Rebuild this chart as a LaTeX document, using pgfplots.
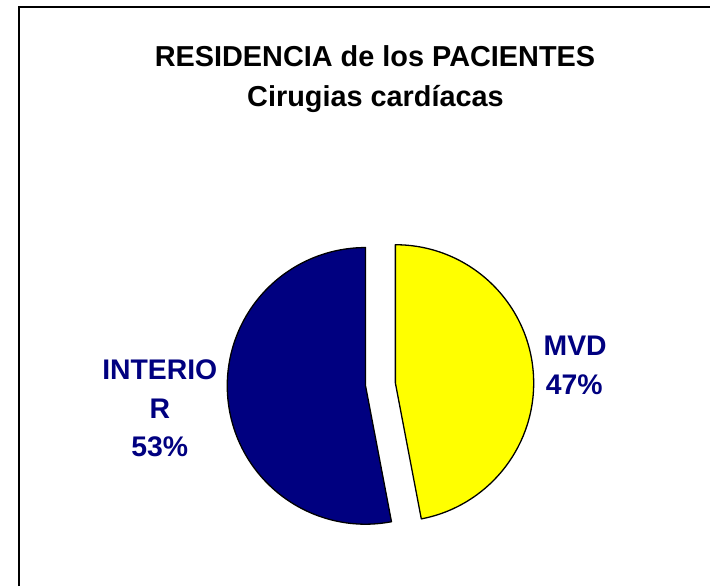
\documentclass[border=0pt]{standalone}
\usepackage{fontspec}
\setmainfont{Liberation Sans}
\usepackage{pgfplots}
\usepackage{pgfplotstable}
\pgfplotsset{compat=1.18}
\definecolor{navy}{HTML}{000080}
\definecolor{amarillo}{HTML}{FFFF00}

% Residencia de los pacientes (%)
\pgfplotstableread{
nombre valor
MVD 47
INTERIOR 53
}\residencia

\begin{document}
\begin{tikzpicture}
\pgfplotstablegetelem{0}{valor}\of\residencia \let\vMVD\pgfplotsretval
\pgfplotstablegetelem{1}{valor}\of\residencia \let\vINT\pgfplotsretval
\pgfmathsetmacro\total{\vMVD+\vINT}
\pgfmathsetmacro\aMVD{\vMVD/\total*360}
\pgfmathsetmacro\endA{90-\aMVD}
\pgfmathsetmacro\midA{90-\aMVD/2}
\pgfmathsetmacro\midB{\endA-(360-\aMVD)/2}
% slices pulled out 15 units from the common centre
\pgfmathsetmacro\cxA{381+15*cos(\midA)}
\pgfmathsetmacro\cyA{202+15*sin(\midA)}
\pgfmathsetmacro\cxB{381+15*cos(\midB)}
\pgfmathsetmacro\cyB{202+15*sin(\midB)}
\def\R{138.5bp}
\begin{axis}[
    scale only axis, width=711bp, height=587bp,
    xmin=0, xmax=711, ymin=0, ymax=587,
    hide axis, clip=false,
]
\path (axis cs:0,0) rectangle (axis cs:711,587);
% marco
\draw[black, line width=2bp] (axis cs:19,0) -- (axis cs:19,580) -- (axis cs:711,580);

% titulo
\node[anchor=base, font=\bfseries\fontsize{29}{34}\selectfont]
    at (axis cs:375.5,520) {RESIDENCIA de los PACIENTES};
\node[anchor=base, font=\bfseries\fontsize{29}{34}\selectfont]
    at (axis cs:376,480) {Cirugias cardíacas};

% MVD
\filldraw[fill=amarillo, draw=black, line width=1.3bp, line join=round]
    (axis cs:\cxA,\cyA) -- +(90:\R) arc[start angle=90, end angle=\endA, radius=\R] -- cycle;
% INTERIOR
\filldraw[fill=navy, draw=black, line width=1.3bp, line join=round]
    (axis cs:\cxB,\cyB) -- +(\endA:\R) arc[start angle=\endA, end angle=-270, radius=\R] -- cycle;

% etiquetas
\begin{scope}[every node/.style={anchor=base, text=navy, font=\bfseries\fontsize{28.5}{34}\selectfont}]
\node at (axis cs:160,207) {INTERIO};
\node at (axis cs:160,168) {R};
\node at (axis cs:160,130) {53\%};
\node at (axis cs:576,231) {MVD};
\node at (axis cs:575,192) {47\%};
\end{scope}
\end{axis}
\end{tikzpicture}
\end{document}
